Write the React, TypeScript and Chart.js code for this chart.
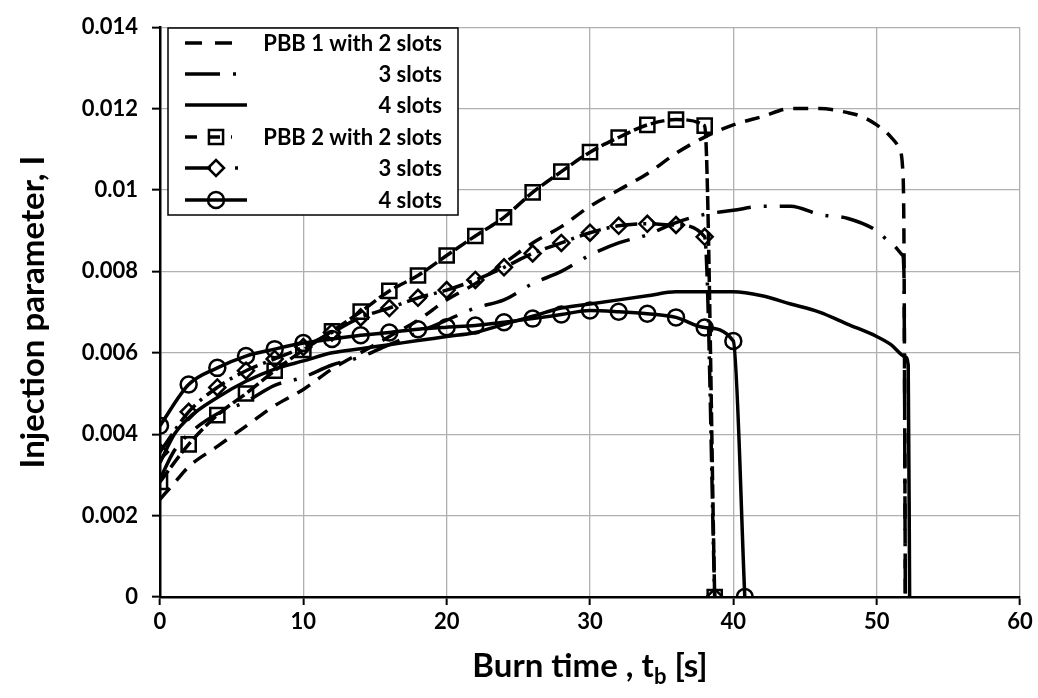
import React, { useEffect, useRef } from "react";
import { Chart, registerables } from "chart.js";

Chart.register(...registerables);

// ---------------- Data ----------------
const seriesLabels = [
  "PBB 1 with 2 slots",
  "3 slots",
  "4 slots",
  "PBB 2 with 2 slots",
  "3 slots",
  "4 slots",
];

// PBB 1, 2 slots (dashed)
const pbb1S2T = [0, 1, 2, 4, 6, 8, 10, 12, 14, 16, 18, 20, 22, 24, 26, 28, 30, 32, 34, 36, 38, 40, 42, 44, 46, 48, 49, 50, 51, 51.6, 51.8, 51.9, 52.0];
const pbb1S2I = [0.0024, 0.0028, 0.0032, 0.0037, 0.0042, 0.0047, 0.0051, 0.0056, 0.006, 0.0064, 0.0068, 0.0073, 0.0077, 0.0082, 0.0087, 0.0091, 0.0096, 0.01, 0.0104, 0.0109, 0.0113, 0.0116, 0.0118, 0.012, 0.012, 0.0119, 0.0118, 0.0116, 0.0113, 0.011, 0.0106, 0.009, 0];

// PBB 1, 3 slots (dash-dot)
const pbb1S3T = [0, 1, 2, 4, 6, 8, 10, 12, 14, 16, 18, 20, 22, 24, 26, 28, 30, 32, 34, 36, 38, 40, 42, 44, 46, 48, 50, 51, 51.8, 51.9, 52.0];
const pbb1S3I = [0.0029, 0.0036, 0.004, 0.0045, 0.0048, 0.0052, 0.0054, 0.0057, 0.0059, 0.0062, 0.0065, 0.0068, 0.0071, 0.0073, 0.0077, 0.008, 0.0084, 0.0087, 0.0089, 0.0092, 0.0094, 0.0095, 0.0096, 0.0096, 0.0094, 0.0093, 0.009, 0.0087, 0.0084, 0.008, 0];

// PBB 1, 4 slots (solid)
const pbb1S4T = [0, 1, 2, 4, 6, 8, 10, 12, 14, 16, 18, 20, 22, 24, 26, 28, 30, 32, 34, 36, 38, 40, 42, 44, 46, 48, 50, 51, 52, 52.2, 52.3];
const pbb1S4I = [0.0033, 0.004, 0.0044, 0.0049, 0.0053, 0.0056, 0.0058, 0.006, 0.0061, 0.0062, 0.0063, 0.0064, 0.0065, 0.0067, 0.0069, 0.0071, 0.0072, 0.0073, 0.0074, 0.0075, 0.0075, 0.0075, 0.0074, 0.0072, 0.007, 0.0067, 0.0064, 0.0062, 0.0059, 0.0057, 0];

// PBB 2, 2 slots (squares)
const pbb2S2T = [0, 2, 4, 6, 8, 10, 12, 14, 16, 18, 20, 22, 24, 26, 28, 30, 32, 34, 36, 38, 38.7];
const pbb2S2I = [0.00283, 0.00375, 0.00447, 0.005, 0.00556, 0.00607, 0.00653, 0.00701, 0.00752, 0.0079, 0.00839, 0.00887, 0.00933, 0.00994, 0.01045, 0.01093, 0.01129, 0.0116, 0.01173, 0.01158, 0];

// PBB 2, 3 slots (diamonds)
const pbb2S3T = [0, 2, 4, 6, 8, 10, 12, 14, 16, 18, 20, 22, 24, 26, 28, 30, 32, 34, 36, 38, 38.7];
const pbb2S3I = [0.00356, 0.00455, 0.00515, 0.00556, 0.00585, 0.00614, 0.0065, 0.00687, 0.0071, 0.00735, 0.00754, 0.00779, 0.0081, 0.00844, 0.0087, 0.00895, 0.00912, 0.00917, 0.00914, 0.00885, 0];

// PBB 2, 4 slots (circles)
const pbb2S4T = [0, 2, 4, 6, 8, 10, 12, 14, 16, 18, 20, 22, 24, 26, 28, 30, 32, 34, 36, 38, 40, 40.8];
const pbb2S4I = [0.00421, 0.00522, 0.00563, 0.00592, 0.00609, 0.00624, 0.00634, 0.00643, 0.0065, 0.00658, 0.00663, 0.00667, 0.00675, 0.00684, 0.00694, 0.00704, 0.00701, 0.00696, 0.00687, 0.00662, 0.00629, 0];

const xTitleMain = "Burn time , t";
const xTitleSub = "b";
const xTitleEnd = " [s]";
const yTitle = "Injection parameter, I";

// ---------------- Styles ----------------
const FONT = "Lato, 'Open Sans', sans-serif";

type Style = {
  dash: number[];
  legendDash: number[];
  marker: false | "rect" | "rectRot" | "circle";
  radius: number;
  legendLineEnd: number;
};

const styles: Style[] = [
  { dash: [15, 10], legendDash: [17, 13], marker: false, radius: 0, legendLineEnd: 232 },
  { dash: [34, 13, 3, 13], legendDash: [35, 13, 3, 20], marker: false, radius: 0, legendLineEnd: 240 },
  { dash: [], legendDash: [], marker: false, radius: 0, legendLineEnd: 247 },
  { dash: [14, 4], legendDash: [12, 11], marker: "rect", radius: 10, legendLineEnd: 232 },
  { dash: [22, 6, 3, 6], legendDash: [26, 24, 3, 20], marker: "rectRot", radius: 8, legendLineEnd: 240 },
  { dash: [], legendDash: [], marker: "circle", radius: 8, legendLineEnd: 247 },
];

function drawMarker(ctx: CanvasRenderingContext2D, kind: string, x: number, y: number, r: number) {
  ctx.beginPath();
  if (kind === "rect") {
    const s = Math.SQRT1_2 * r;
    ctx.rect(x - s, y - s, 2 * s, 2 * s);
  } else if (kind === "rectRot") {
    ctx.moveTo(x - r, y);
    ctx.lineTo(x, y - r);
    ctx.lineTo(x + r, y);
    ctx.lineTo(x, y + r);
    ctx.closePath();
  } else {
    ctx.arc(x, y, r, 0, Math.PI * 2);
  }
  ctx.stroke();
}

const overlayPlugin = {
  id: "overlay",
  afterDraw(chart: any) {
    const ctx: CanvasRenderingContext2D = chart.ctx;
    const area = chart.chartArea;
    ctx.save();
    ctx.fillStyle = "#000";
    ctx.strokeStyle = "#000";

    // X title with subscript
    const big = `bold 33px ${FONT}`;
    const small = `bold 22px ${FONT}`;
    ctx.font = big;
    const w1 = ctx.measureText(xTitleMain).width;
    const w3 = ctx.measureText(xTitleEnd).width;
    ctx.font = small;
    const w2 = ctx.measureText(xTitleSub).width;
    const total = w1 + w2 + w3;
    const cx = (area.left + area.right) / 2;
    let x = cx - total / 2;
    const yBase = 677;
    ctx.textBaseline = "alphabetic";
    ctx.textAlign = "left";
    ctx.font = big;
    ctx.fillText(xTitleMain, x, yBase);
    x += w1;
    ctx.font = small;
    ctx.fillText(xTitleSub, x, yBase + 7);
    x += w2;
    ctx.font = big;
    ctx.fillText(xTitleEnd, x, yBase);

    // Y title
    ctx.save();
    ctx.translate(33, (area.top + area.bottom) / 2);
    ctx.rotate(-Math.PI / 2);
    ctx.textAlign = "center";
    ctx.textBaseline = "middle";
    ctx.font = big;
    ctx.fillText(yTitle, 0, 0);
    ctx.restore();

    // Legend box
    const bx = 168, by = 28, bw = 290, bh = 187;
    ctx.fillStyle = "#fff";
    ctx.fillRect(bx, by, bw, bh);
    ctx.lineWidth = 1.5;
    ctx.strokeStyle = "#000";
    ctx.strokeRect(bx, by, bw, bh);

    const rowY = [43, 74, 105, 137, 168, 200];
    ctx.font = `bold 22px ${FONT}`;
    ctx.textAlign = "right";
    ctx.textBaseline = "middle";
    seriesLabels.forEach((label, i) => {
      const st = styles[i];
      const y = rowY[i];
      ctx.save();
      ctx.lineWidth = 3.5;
      ctx.lineCap = "butt";
      ctx.setLineDash(st.legendDash);
      ctx.beginPath();
      ctx.moveTo(185, y);
      ctx.lineTo(st.legendLineEnd, y);
      ctx.stroke();
      ctx.setLineDash([]);
      if (st.marker) {
        ctx.lineWidth = 2.5;
        ctx.fillStyle = "#fff";
        drawMarker(ctx, st.marker, 216, y, st.radius);
      }
      ctx.restore();
      ctx.fillStyle = "#000";
      ctx.fillText(label, 442, y + 1);
    });
    ctx.restore();
  },
};

export default function App() {
  const ref = useRef<HTMLCanvasElement>(null);

  useEffect(() => {
    const canvas = ref.current;
    if (!canvas) return;
    const mk = (t: number[], v: number[]) => t.map((x, i) => ({ x, y: v[i] }));
    const series = [
      [pbb1S2T, pbb1S2I],
      [pbb1S3T, pbb1S3I],
      [pbb1S4T, pbb1S4I],
      [pbb2S2T, pbb2S2I],
      [pbb2S3T, pbb2S3I],
      [pbb2S4T, pbb2S4I],
    ];
    const datasets = series.map(([t, v], i) => {
      const st = styles[i];
      return {
        label: seriesLabels[i],
        data: mk(t, v),
        borderColor: "#000",
        backgroundColor: "rgba(0,0,0,0)",
        borderWidth: 3.5,
        borderDash: st.dash,
        pointStyle: st.marker || "circle",
        pointRadius: st.radius,
        pointHoverRadius: st.radius,
        pointBorderWidth: 2.5,
        pointBorderColor: "#000",
        pointBackgroundColor: "rgba(0,0,0,0)",
        cubicInterpolationMode: "monotone" as const,
        fill: false,
      };
    });

    const tickFont = { family: FONT, weight: "bold" as const, size: 22 };

    const chart = new Chart(canvas, {
      type: "line",
      data: { datasets },
      options: {
        animation: false,
        responsive: true,
        maintainAspectRatio: false,
        layout: { padding: { top: 18, right: 18, left: 0, bottom: 0 } },
        plugins: {
          legend: { display: false },
          tooltip: { enabled: false },
          title: { display: false },
        },
        scales: {
          x: {
            type: "linear",
            min: 0,
            max: 60,
            ticks: { stepSize: 10, color: "#000", font: tickFont, padding: 4, maxRotation: 0 },
            grid: { color: "#b0b0b0", lineWidth: 1.3, tickColor: "#000", tickLength: 8, tickWidth: 2 },
            border: { color: "#000", width: 2.5 },
            afterFit: (s: any) => {
              s.height = 101;
            },
          },
          y: {
            type: "linear",
            min: 0,
            max: 0.014,
            ticks: {
              stepSize: 0.002,
              color: "#000",
              font: tickFont,
              padding: 14,
              callback: (v: any) => String(parseFloat(Number(v).toFixed(3))),
            },
            grid: { color: "#b0b0b0", lineWidth: 1.3, tickColor: "#000", tickLength: 8, tickWidth: 2 },
            border: { color: "#000", width: 2.5 },
            afterFit: (s: any) => {
              s.width = 160;
            },
          },
        },
      },
      plugins: [overlayPlugin],
    });
    return () => chart.destroy();
  }, []);

  return (
    <div style={{ position: "absolute", left: 0, top: 0, width: 1038, height: 698, background: "#fff" }}>
      <canvas ref={ref} />
    </div>
  );
}
